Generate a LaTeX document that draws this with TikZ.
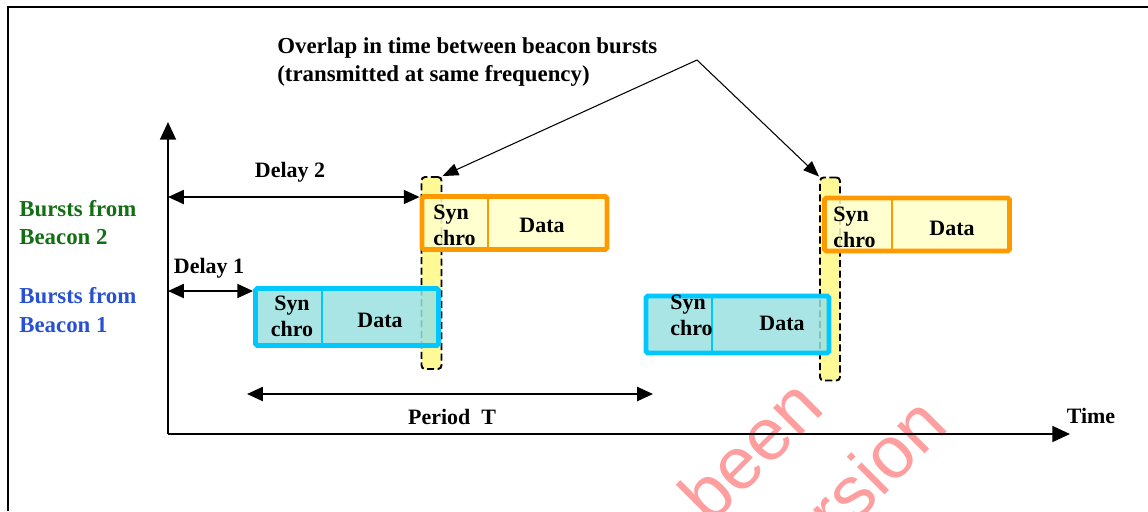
\documentclass[tikz,border=0pt]{standalone}
\usepackage{fontspec}
\setmainfont{Liberation Serif}
\newfontfamily\wmfont{Liberation Sans}
\usetikzlibrary{arrows.meta}

\definecolor{burstblue}{RGB}{0,200,255}
\definecolor{burstorange}{RGB}{255,153,0}
\definecolor{tealfill}{RGB}{155,225,225}
\definecolor{creamfill}{RGB}{255,255,200}
\definecolor{stripfill}{RGB}{255,250,150}
\definecolor{beacongreen}{RGB}{20,110,20}
\definecolor{beaconblue}{RGB}{40,80,210}
\definecolor{wmpink}{RGB}{255,158,158}

\begin{document}
\begin{tikzpicture}[x=0.02cm, y=-0.02cm,
    lbl/.style={font=\fontsize{12.5}{15}\selectfont\bfseries, inner sep=0pt},
    cell/.style={font=\fontsize{12.5}{14.7}\selectfont\bfseries, align=left, inner sep=0pt},
    beacon/.style={font=\fontsize{13}{16.4}\selectfont\bfseries, align=left, anchor=west, inner sep=0pt},
    wm/.style={font=\wmfont\fontsize{42}{48}\selectfont, text=wmpink, rotate=45},
    burstA/.style={draw=burstblue, fill=tealfill, fill opacity=0.85, line width=2.8pt,
        rounded corners=1pt, minimum width=3.66cm, minimum height=1.14cm, inner sep=0pt},
    burstB/.style={draw=burstorange, fill=creamfill, fill opacity=0.85, line width=2.8pt,
        rounded corners=1pt, minimum width=3.7cm, minimum height=1.06cm, inner sep=0pt},
    overlap/.style={draw=black, dash pattern=on 4pt off 2pt, fill=stripfill, line width=1.1pt,
        rounded corners=2pt, minimum width=0.4cm, inner sep=0pt},
    span/.style={line width=1pt, arrows={Triangle[length=9pt, width=8pt]-Triangle[length=9pt, width=8pt]}},
]
    \useasboundingbox (0,0) rectangle (1148,511);

    % watermark
    \begin{scope}
        \clip (0,0) rectangle (1148,511);
        \node[wm] (wm1) at (750,450) {been};
        \node[wm] (wm2) at (848,494) {version};
    \end{scope}

    % frame
    \draw[line width=1.2pt] (8,511) -- (8,7) -- (1148,7);

    % axes
    \coordinate (O) at (168,434);
    \coordinate (ytop) at (168,122);
    \coordinate (xend) at (1070,434);
    \draw[line width=1.1pt, -{Triangle[length=10pt, width=9pt]}] (O) -- (ytop);
    \draw[line width=1.1pt, -{Triangle[length=10pt, width=9pt]}] (O) -- (xend);
    \node[lbl] (time) at (1091,416) {Time};

    % overlap strips
    \node[overlap, minimum height=3.84cm] (s1) at (431.5,273) {};
    \node[overlap, minimum height=4.06cm] (s2) at (830,279) {};

    % bursts
    \node[burstA] (b1a) at (347,317) {};
    \node[burstB] (b2a) at (514.5,223) {};
    \node[burstA] (b1b) at (737.5,324.5) {};
    \node[burstB] (b2b) at (917,224.5) {};

    \draw[burstblue, line width=0.6pt] (322,0 |- b1a.north) -- (322,0 |- b1a.south);
    \draw[burstorange, line width=0.6pt] (488,0 |- b2a.north) -- (488,0 |- b2a.south);
    \draw[burstblue, line width=0.6pt] (712,0 |- b1b.north) -- (712,0 |- b1b.south);
    \draw[burstorange, line width=0.6pt] (892,0 |- b2b.north) -- (892,0 |- b2b.south);

    \node[cell, align=center] (c1a) at (292,316) {Syn\\chro};
    \node[cell] (d1a) at (380,320) {Data};
    \node[cell, anchor=west] (c2a) at (433,225) {Syn\\chro};
    \node[cell] (d2a) at (542,225) {Data};
    \node[cell, anchor=west] (c1b) at (670,315.5) {Syn\\chro};
    \node[cell] (d1b) at (782,323) {Data};
    \node[cell, anchor=west] (c2b) at (833,227.5) {Syn\\chro};
    \node[cell] (d2b) at (952,228) {Data};

    % beacon labels
    \node[beacon, text=beacongreen] (bcn2) at (19,222.5) {Bursts from\\Beacon 2};
    \node[beacon, text=beaconblue] (bcn1) at (19,310) {Bursts from\\Beacon 1};

    % delays and period
    \coordinate (d2) at (168,197);
    \coordinate (d1) at (168,291);
    \coordinate (pa) at (247,394);
    \coordinate (pb) at (653,394);
    \draw[span] (d2) -- (d2 -| b2a.west);
    \draw[span] (d1) -- (d1 -| b1a.west);
    \draw[span] (pa) -- (pb);
    \node[lbl] (del2) at (290,172) {Delay 2};
    \node[lbl] (del1) at (209,268) {Delay 1};
    \node[lbl] (per) at (452,417) {Period~~T};

    % overlap note
    \node[font=\fontsize{13}{16.4}\selectfont\bfseries, align=left, anchor=west, inner sep=0pt]
        (note) at (277,62) {Overlap in time between beacon bursts\\(transmitted at same frequency)};
    \coordinate (apex) at (697,60);
    \draw[line width=0.6pt, -{Triangle[length=9pt, width=7pt]}] (apex) -- (s1.north east);
    \draw[line width=0.6pt, -{Triangle[length=9pt, width=7pt]}] (apex) -- (s2.north west);

\end{tikzpicture}
\end{document}
